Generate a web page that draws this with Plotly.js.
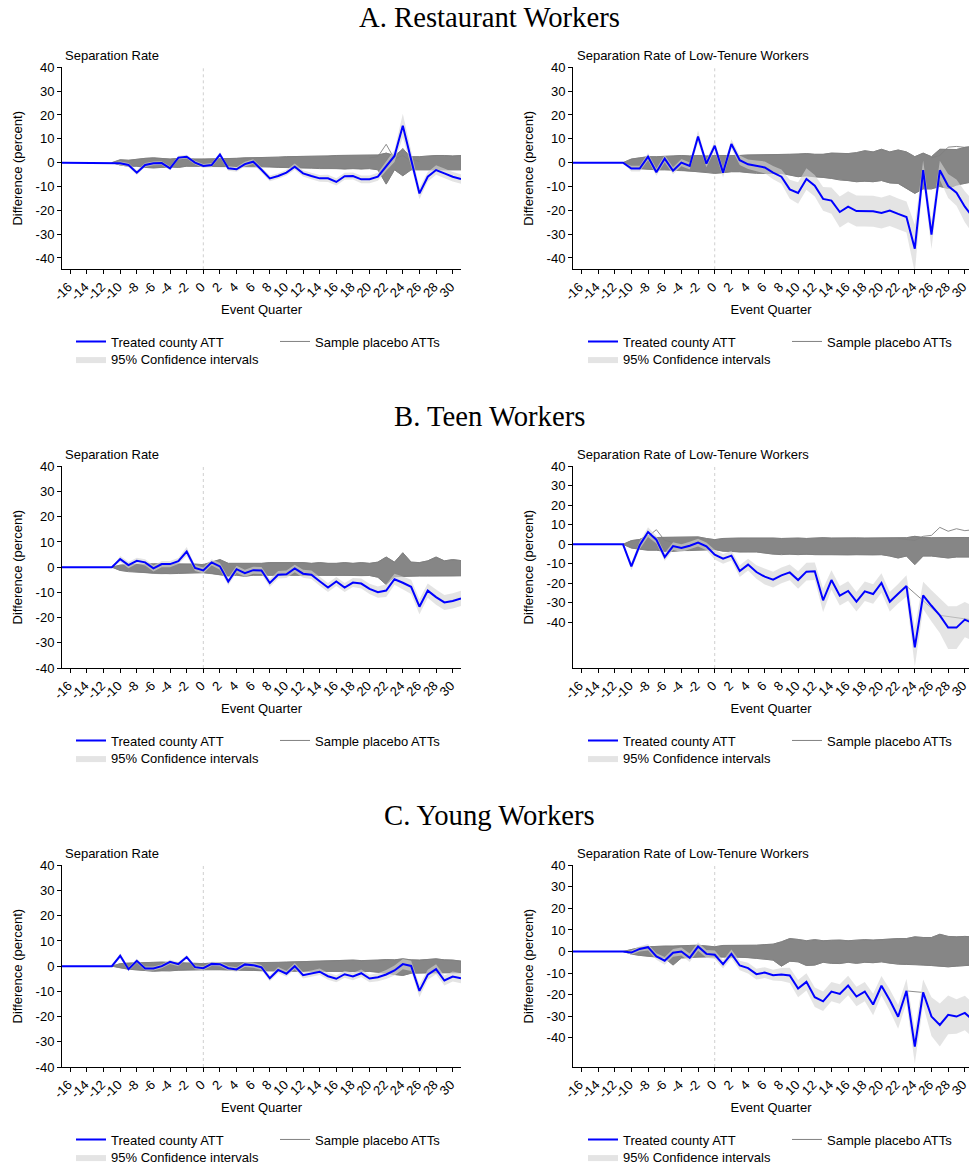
<!DOCTYPE html>
<html>
<head>
<meta charset="utf-8">
<script src="https://cdn.plot.ly/plotly-3.0.1.min.js"></script>
<style>html,body{margin:0;padding:0;background:#fff;overflow:hidden}</style>
</head>
<body>
<div id="chart" style="width:969px;height:1165px"></div>
<script>
// ---------- categories / ticks ----------
const quarters = [-17,-16,-15,-14,-13,-12,-11,-10,-9,-8,-7,-6,-5,-4,-3,-2,-1,0,1,2,3,4,5,6,7,8,9,10,11,12,13,14,15,16,17,18,19,20,21,22,23,24,25,26,27,28,29,30,31];
const postQuarters = [-11,-10,-9,-8,-7,-6,-5,-4,-3,-2,-1,0,1,2,3,4,5,6,7,8,9,10,11,12,13,14,15,16,17,18,19,20,21,22,23,24,25,26,27,28,29,30,31];
const xTickVals = [-16,-14,-12,-10,-8,-6,-4,-2,0,2,4,6,8,10,12,14,16,18,20,22,24,26,28,30];
const xTickText = ['-16','-14','-12','-10','-8','-6','-4','-2','0','2','4','6','8','10','12','14','16','18','20','22','24','26','28','30'];
const yTickVals = [-40,-30,-20,-10,0,10,20,30,40];
const yTickText = ['-40','-30','-20','-10','0','10','20','30','40'];

const rowTitles = ['A. Restaurant Workers','B. Teen Workers','C. Young Workers'];
const panelTitles = ['Separation Rate','Separation Rate of Low-Tenure Workers'];
const legendNames = ['Treated county ATT','Sample placebo ATTs','95% Confidence intervals'];

// ---------- treated county ATT (quarters -17..31) ----------
const attA_L = [0,0,0,0,0,0,0,-0.3,-1,-4.2,-1,-0.3,-0.2,-2.4,2.1,2.5,0,-1.4,-1,3.4,-2.4,-2.8,-0.6,0.4,-3,-6.6,-5.6,-4.2,-1.7,-4.5,-5.6,-6.6,-6.6,-8.1,-5.7,-5.6,-7,-7,-5.9,-1.4,2.8,15.5,1.5,-12.9,-5.9,-3.1,-4.5,-5.9,-6.9];
const attA_R = [0,0,0,0,0,0,0,-2.5,-2.5,2.5,-4,1.7,-3.4,0,-1.4,11,-0.4,7.1,-4.2,7.8,1,-0.7,-1.3,-2,-4.2,-5.9,-11.2,-12.7,-6.9,-9.7,-15.2,-15.9,-20.7,-18.5,-20.3,-20.3,-20.4,-21.1,-20.1,-21.5,-22.8,-36.1,-3.1,-30.2,-3.2,-9.8,-12.6,-18.5,-23];
const attB_L = [0,0,0,0,0,0,0,3.2,0.8,2.5,1.9,-0.5,1.2,1.2,2.4,6.2,-0.3,-1.3,1.9,0.3,-5.7,-0.8,-2.4,-1.2,-1.3,-6.3,-3,-2.8,-0.5,-2.6,-3,-5.6,-8.1,-5.7,-8.1,-6.1,-6.5,-8.6,-9.9,-9.3,-4.8,-6.2,-7.8,-15.7,-9.3,-11.9,-14,-13.4,-12.4];
const attB_R = [0,0,0,0,0,0,0,-11.3,-0.5,6.3,2.4,-6.5,-0.9,-1.9,-0.7,0.9,-1,-5.3,-7.4,-5.8,-13.7,-10.4,-14.2,-16.6,-18.1,-15.9,-14.4,-18.3,-14,-13.8,-28.7,-18.3,-26.3,-23.9,-29.4,-24.1,-25.5,-19.8,-29.4,-25.3,-21.4,-52.8,-26.2,-31.5,-36.4,-42.7,-42.7,-38.6,-40.5];
const attC_L = [0,0,0,0,0,0,0,4.1,-1.2,2.1,-0.9,-0.9,0,1.7,0.8,3.6,-0.4,-0.8,0.9,0.8,-0.8,-1.3,0.7,0.4,-0.5,-4.8,-1.5,-3,0,-3.6,-3,-2.2,-4,-5,-3.2,-4.1,-2.8,-4.9,-4.4,-3.3,-1.7,0.8,0.1,-9.8,-3.4,-1.2,-5.7,-4.1,-4.8];
const attC_R = [0,0,0,0,0,0,0,-0.5,1.2,2,-2.3,-4.3,-0.6,0,-2.9,2.3,-1.1,-1.5,-5.9,-1.1,-6.5,-7.7,-10.5,-9.8,-11,-10.7,-11.1,-17.2,-14.1,-21.2,-23.1,-18.6,-19.7,-15.8,-20.9,-18.6,-24.6,-15.9,-22.6,-30.3,-18.3,-44.1,-19,-30.2,-34.1,-29.4,-30.2,-28.5,-32];

// ---------- 95% CI half-widths (quarters -11..31) ----------
const ciHalfA_L = [0,0.8,0.8,1,0.8,0.8,0.8,0.8,0.8,0.8,0.8,0.8,0.9,1,1,1,1,1,1.1,1.2,1.2,1.2,1.3,1.3,1.4,1.4,1.5,1.5,1.5,1.5,1.6,1.6,1.7,2,2.5,5,3,2.5,2,2,2,2,2];
const ciHalfA_R = [0,1.2,1.2,1.5,1.5,1.5,1.5,1.5,1.5,2.5,1.5,2,2,2,2,2,2.2,2.5,2.8,3,4,4.5,4.5,4.5,5,5.5,6.5,6.5,6.5,6.5,6.5,6.5,6.5,6.5,6.5,10,4,6,4,5,5.5,6.5,7];
const ciHalfB_L = [0,1.2,1.2,1.2,1.2,1.2,1.2,1.2,1.2,1.8,1.2,1.2,1.2,1.3,1.5,1.4,1.4,1.4,1.4,1.6,1.5,1.5,1.5,1.6,1.7,1.8,1.8,1.8,1.8,1.8,2,2,2.2,2.5,2.2,2.5,2.8,3,2.8,3,3,3,3];
const ciHalfB_R = [0,2,2,2.5,2,2,2,2,2,2,2,2.5,2.5,2.5,3,3,3.5,4,4,4,4,4.5,4.5,4.5,6,5,5,5,5,5,5,5,5,5,5.5,10,7,8,9,11,11,9,9];
const ciHalfC_L = [0,1,0.8,0.8,0.8,0.8,0.8,0.8,0.8,0.8,0.8,0.8,0.8,0.8,0.9,0.9,1,1,1,1.2,1.2,1.2,1.2,1.3,1.3,1.3,1.4,1.4,1.4,1.5,1.5,1.5,1.6,1.8,2,2,2,2.5,2,2,2,2,2];
const ciHalfC_R = [0,1,1.2,1.5,1.5,1.8,1.8,1.8,2,2,1.8,2,2,2,2.2,2.5,2.5,2.5,2.5,3,3.5,4,4,4.5,4.5,4.5,4.5,4.5,4.5,4.5,5,4.5,5,5.5,5.5,8,6,9,10,9,8,8,8];

// ---------- placebo ATT envelope (quarters -11..31) ----------
const plHiA_L = [0,1.2,1,1.5,1.8,2,1.8,1.5,1.8,1.5,1.5,1.5,1.5,1.8,1.8,1.8,2,2,2,2.2,2.3,2.5,2.5,2.7,2.7,2.8,2.8,3,3,3,3.2,3,3.2,4,3,5.5,2.5,2.5,2.8,3,3,2.8,3];
const plLoA_L = [0,-1,-1.5,-1.5,-2,-2.2,-2,-1.8,-2,-1.5,-1.5,-1.5,-1.5,-1.5,-1.8,-1.8,-1.5,-1.5,-1.6,-1.8,-2,-2,-2,-2.2,-2.3,-2.5,-2.5,-2.5,-2.8,-2.5,-2.8,-2.5,-3,-9,-3,-5.5,-3,-3,-2.8,-3,-3,-3,-3];
const plHiA_R = [0,1.5,2,2.5,2.5,2.5,2.8,3,2.8,3,2.8,3,3,2.8,3,3.2,3.2,3.5,3.5,3.5,3.5,3.6,3.8,3.5,3.5,4,3.9,3.8,4.2,5,4.5,5.6,4.5,5.3,4.5,2.5,4,2.5,5.6,5.6,5.5,6.4,6.5];
const plLoA_R = [0,-2.4,-2.5,-2.8,-3,-3,-3,-3.2,-3.5,-3.8,-4,-4.5,-4.2,-3.8,-3.8,-4.2,-4.5,-4.5,-4.5,-4.5,-5.2,-5.9,-5.5,-6,-6.2,-6.6,-7.3,-7.5,-8,-7.8,-8,-7.5,-8.5,-8.7,-10.8,-12.9,-11,-11,-10,-10.8,-9.4,-8.7,-8];
const plHiB_L = [0,0.8,1,1,1.2,1.3,1.3,1.3,1.3,1.2,1.2,1,2,3,1.5,1.5,1.2,1.5,1.5,1.8,1.8,1.7,1.8,1.8,1.5,1.8,1.5,1.5,1.8,1.5,1.8,1.5,2,4,2,5.7,2,1.8,2.5,4,2.5,3,2.6];
const plLoB_L = [0,-1.3,-1.8,-2,-2.2,-2.5,-2.6,-2.6,-2.5,-2.3,-2.2,-2.2,-2.5,-3,-3.5,-3.2,-3.6,-3.2,-3.2,-3.5,-3.2,-3.2,-3.2,-3.2,-3.2,-3.2,-3.2,-3.2,-3.2,-3.2,-3.4,-3.3,-4,-6.9,-3.8,-3.6,-3.5,-3.5,-3.5,-3.4,-3.4,-3.5,-3.4];
const plHiB_R = [0,1.9,2.5,4.6,3.5,3.5,3.6,3.5,3.8,3.8,3,2.4,3,3.2,3.2,3.2,3.2,3.4,3.2,3,3.2,3.2,3,3.2,3.4,3.2,3.3,3.2,3.3,3.2,3.3,3.2,3.3,3.5,3.4,4.1,3.5,3.4,3.5,3.5,3.4,3.5,3.4];
const plLoB_R = [0,-1.9,-2.5,-3,-3,-3.6,-3.6,-3.2,-3.2,-3,-2.8,-2.7,-3.5,-3.7,-4,-3.9,-3.9,-4.5,-5,-5.3,-5,-5.3,-5,-5.3,-5.3,-5.3,-5.3,-5.5,-5.3,-5.3,-5.5,-5.3,-6,-7,-6,-10.4,-6,-6,-6.5,-7,-6.5,-6.5,-6.5];
const plHiC_L = [0,1,1.2,1.2,1.4,1.5,1.6,1.5,1.5,1.3,1.2,1,1.2,1.2,1.2,1.2,1.2,1.3,1.3,1.5,1.5,1.6,1.7,1.7,1.8,2,2,2,2.2,2.4,2.2,2.2,2.4,2.6,2.5,2.9,2.5,2.4,2.6,2.9,2.5,2.4,2];
const plLoC_L = [0,-0.7,-1.2,-1.5,-1.7,-2,-1.8,-1.9,-1.6,-1.5,-1.4,-1.3,-1.4,-1.4,-1.5,-1.5,-1.6,-1.7,-1.8,-2,-1.9,-2,-2,-2,-2.1,-2.1,-2.1,-2.2,-2.1,-2.2,-2.2,-2.1,-2.3,-2.6,-3.3,-3.7,-2.8,-2.6,-2.6,-2.6,-2.6,-2.6,-2.6];
const plHiC_R = [0,1,1.8,2.2,2.5,2.5,2.5,2.5,2.8,2.9,2.5,2.2,2.8,2.8,2.9,2.9,2.9,3.2,3.4,4.5,6,5.6,5,5.5,5,5.2,5.3,5,5.3,5.5,5.3,5.6,5.8,6,6,6.8,6.5,6.5,8,7,6.8,7,6.8];
const plLoC_R = [0,-1.2,-1.8,-2.2,-2.5,-3,-6.3,-3,-2.8,-2.5,-2.5,-2.5,-2.5,-2.6,-2.6,-2.8,-3.2,-3.5,-4,-6.8,-4.5,-4.8,-6.5,-6.3,-5,-5.5,-5.6,-5,-5.5,-5,-5.2,-4.8,-5.5,-5.9,-6,-6,-6.3,-6.5,-6.8,-7.1,-6.8,-6.5,-6.3];

// ---------- individual outlying placebo lines ----------
const outA_L_q1 = [20,21,22,23,24,25];  const outA_L_v1 = [2,2.5,7.7,1.5,3,0.5];
const outA_L_q2 = [22,23,24,25,26];     const outA_L_v2 = [1,2,6,1.5,0.5];
const outA_R_q1 = [26,27,28,29,30,31];  const outA_R_v1 = [2,3,6.5,6.8,6.4,7];
const outB_R_q1 = [-9,-8,-7,-6,-5];     const outB_R_v1 = [1,4,7.5,2,1];
const outB_R_q2 = [22,23,24,25,26,27,28,29,30,31]; const outB_R_v2 = [3,2.4,2,4.1,4.6,8.7,6.7,8,7,7.5];
const outB_R_q3 = [23,27,31];           const outB_R_v3 = [-21.4,-36.4,-38.8];
const outC_R_q1 = [23,25];              const outC_R_v1 = [-18.3,-19];

// ---------- styles ----------
const BLUE = '#0000ff';
const PLACEBO = '#808080';
const PLACEBO_FILL = '#868686';
const CI_FILL = 'rgba(212,212,212,0.62)';
const SANS = 'Liberation Sans, Arial, sans-serif';
const SERIF = 'Liberation Serif, Times New Roman, serif';

const panels = [
  {att: attA_L, half: ciHalfA_L, hi: plHiA_L, lo: plLoA_L, outs: [[outA_L_q1,outA_L_v1],[outA_L_q2,outA_L_v2]], n: 1},
  {att: attA_R, half: ciHalfA_R, hi: plHiA_R, lo: plLoA_R, outs: [[outA_R_q1,outA_R_v1]], n: 2},
  {att: attB_L, half: ciHalfB_L, hi: plHiB_L, lo: plLoB_L, outs: [], n: 3},
  {att: attB_R, half: ciHalfB_R, hi: plHiB_R, lo: plLoB_R, outs: [[outB_R_q1,outB_R_v1],[outB_R_q2,outB_R_v2],[outB_R_q3,outB_R_v3]], n: 4},
  {att: attC_L, half: ciHalfC_L, hi: plHiC_L, lo: plLoC_L, outs: [], n: 5},
  {att: attC_R, half: ciHalfC_R, hi: plHiC_R, lo: plLoC_R, outs: [[outC_R_q1,outC_R_v1]], n: 6}
];

function lgName(k) { return k === 1 ? 'legend' : 'legend' + k; }

const traces = [];
panels.forEach(p => {
  const xa = p.n === 1 ? 'x' : 'x' + p.n;
  const ya = p.n === 1 ? 'y' : 'y' + p.n;
  const lgT = lgName(p.n);        // row 1, column 1: treated
  const lgP = lgName(p.n + 6);    // row 1, column 2: placebo
  const lgC = lgName(p.n + 12);   // row 2, column 1: CI
  const off = quarters.indexOf(postQuarters[0]);
  const revQ = postQuarters.slice().reverse();
  // placebo band
  traces.push({x: postQuarters.concat(revQ), y: p.hi.concat(p.lo.slice().reverse()),
    type: 'scatter', mode: 'lines', fill: 'toself', fillcolor: PLACEBO_FILL,
    line: {color: PLACEBO, width: 0.6}, xaxis: xa, yaxis: ya, showlegend: false, hoverinfo: 'skip', legend: lgP});
  traces.push({x: postQuarters, y: p.hi, type: 'scatter', mode: 'lines', name: legendNames[1],
    line: {color: PLACEBO, width: 1}, xaxis: xa, yaxis: ya, legend: lgP, showlegend: true});
  traces.push({x: postQuarters, y: p.lo, type: 'scatter', mode: 'lines', name: legendNames[1],
    line: {color: PLACEBO, width: 1}, xaxis: xa, yaxis: ya, legend: lgP, showlegend: false});
  p.outs.forEach(o => traces.push({x: o[0], y: o[1], type: 'scatter', mode: 'lines', name: legendNames[1],
    line: {color: PLACEBO, width: 0.9}, xaxis: xa, yaxis: ya, legend: lgP, showlegend: false}));
  // confidence interval
  const ciHi = postQuarters.map((q, i) => p.att[i + off] + p.half[i]);
  const ciLo = postQuarters.map((q, i) => p.att[i + off] - p.half[i]);
  traces.push({x: postQuarters.concat(revQ), y: ciHi.concat(ciLo.slice().reverse()),
    type: 'scatter', mode: 'lines', fill: 'toself', fillcolor: CI_FILL, line: {width: 0, color: CI_FILL},
    name: legendNames[2], xaxis: xa, yaxis: ya, legend: lgC, hoverinfo: 'skip'});
  // treated
  traces.push({x: quarters, y: p.att, type: 'scatter', mode: 'lines', name: legendNames[0],
    line: {color: BLUE, width: 2}, xaxis: xa, yaxis: ya, legend: lgT});
});

const H = 1165, W = 969;
const leftDom = [62 / W, 461 / W];
const rightDom = [573 / W, 1];
const rowTop = [67.3, 466.3, 865.3];     // pixel y of the 40 line
const rowBot = [269.3, 668, 1067];
const yRanges = [[-44.75, 40], [-44.75, 40], [-40, 40], [-63.4, 40], [-40, 40], [-53.6, 40]];
const xRanges = [[-17, 31], [-17, 30.5]];

function xAxis(dom, rng, anchor) {
  return {domain: dom, range: rng, anchor: anchor, showline: true, linecolor: '#000', linewidth: 1,
    ticks: 'outside', ticklen: 4, tickcolor: '#000', tickwidth: 1, tickmode: 'array',
    tickvals: xTickVals, ticktext: xTickText, tickangle: -45, ticklabeloverflow: 'allow', ticklabelshift: -2,
    tickfont: {family: SANS, size: 13, color: '#000'},
    showgrid: false, zeroline: false, automargin: false, fixedrange: true,
    title: {text: 'Event Quarter', font: {family: SANS, size: 13, color: '#000'}, standoff: 2}};
}
function yAxis(dom, rng, anchor) {
  return {domain: dom, range: rng, anchor: anchor, showline: true, linecolor: '#000', linewidth: 1,
    ticks: 'outside', ticklen: 4, tickcolor: '#000', tickwidth: 1, tickmode: 'array',
    tickvals: yTickVals, ticktext: yTickText, tickfont: {family: SANS, size: 13, color: '#000'},
    showgrid: false, zeroline: false, automargin: false, fixedrange: true,
    title: {text: 'Difference (percent)', font: {family: SANS, size: 13, color: '#000'}, standoff: 10}};
}

const layout = {
  width: W, height: H, margin: {l: 0, r: 0, t: 0, b: 0, autoexpand: false},
  paper_bgcolor: '#fff', plot_bgcolor: '#fff',
  font: {family: SANS, size: 13, color: '#000'},
  showlegend: true, annotations: [], shapes: []
};

for (let n = 1; n <= 6; n++) {
  const row = Math.floor((n - 1) / 2);
  const isRight = (n % 2 === 0);
  const yd = [1 - rowBot[row] / H, 1 - rowTop[row] / H];
  const xs = n === 1 ? '' : String(n);
  layout['xaxis' + xs] = xAxis(isRight ? rightDom : leftDom, xRanges[isRight ? 1 : 0], 'y' + xs);
  layout['yaxis' + xs] = yAxis(yd, yRanges[n - 1], 'x' + xs);
  layout.shapes.push({type: 'line', xref: 'x' + xs, yref: 'y' + xs + ' domain', x0: 0, x1: 0, y0: 0, y1: 1,
    line: {color: '#cfcfcf', width: 1, dash: 'dot'}, layer: 'below'});
  layout.annotations.push({text: panelTitles[isRight ? 1 : 0], xref: 'paper', yref: 'paper',
    x: (isRight ? 575 : 63) / W, y: 1 - (rowTop[row] - 11.5) / H, xanchor: 'left', yanchor: 'middle',
    showarrow: false, font: {family: SANS, size: 13, color: '#000'}});
  const baseX = isRight ? 583 : 71;
  const common = {orientation: 'v', xref: 'paper', yref: 'paper', xanchor: 'left', yanchor: 'top',
    font: {family: SANS, size: 13, color: '#000'}, bgcolor: 'rgba(0,0,0,0)', borderwidth: 0, itemwidth: 30};
  const y1 = 1 - (rowTop[row] + 259.2) / H;
  const y2 = 1 - (rowTop[row] + 276.8) / H;
  layout[lgName(n)] = Object.assign({}, common, {x: baseX / W, y: y1});
  layout[lgName(n + 6)] = Object.assign({}, common, {x: (baseX + 204) / W, y: y1});
  layout[lgName(n + 12)] = Object.assign({}, common, {x: baseX / W, y: y2});
}
rowTitles.forEach((t, r) => {
  layout.annotations.push({text: t, xref: 'paper', yref: 'paper', x: 489 / W, y: 1 - (rowTop[r] - 50.5) / H,
    xanchor: 'center', yanchor: 'middle', showarrow: false, font: {family: SERIF, size: 28.7, color: '#000'}});
});

Plotly.newPlot('chart', traces, layout, {staticPlot: true, displayModeBar: false});
</script>
</body>
</html>
